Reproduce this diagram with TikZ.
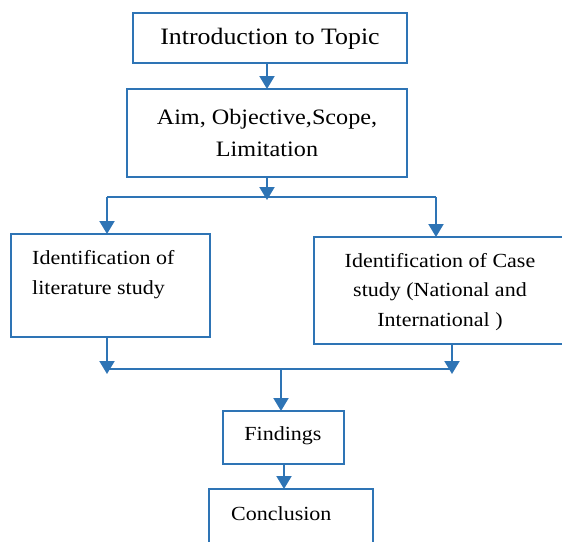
\documentclass[tikz,border=0pt]{standalone}
\usepackage{fontspec}
\setmainfont[FakeStretch=1.1]{Liberation Serif}
\usetikzlibrary{arrows.meta}
\definecolor{bl}{RGB}{46,116,181}
\begin{document}
\begin{tikzpicture}[x=1pt,y=-1pt,
  box/.style={draw=bl,line width=2.5pt,inner sep=0pt,outer sep=0pt,anchor=north west},
  txt/.style={inner sep=0pt,align=center,font=\fontsize{20}{30}\selectfont},
  arr/.style={draw=bl,line width=2pt,-{Triangle[width=15pt,length=13pt]}},
  ln/.style={draw=bl,line width=1.6pt}]
\useasboundingbox (0,0) rectangle (562,541);
\clip (0,0) rectangle (562,541);
% boxes
\node[box,minimum width=274pt,minimum height=50pt] (intro) at (133,13) {};
\node[box,minimum width=280pt,minimum height=88pt] (aim) at (127,89) {};
\node[box,minimum width=199pt,minimum height=103pt] (lit) at (11,234) {};
\node[box,minimum width=260pt,minimum height=107pt] (case) at (314,237) {};
\node[box,minimum width=121pt,minimum height=53pt] (find) at (223,411) {};
\node[box,minimum width=164pt,minimum height=80pt] (conc) at (209,489) {};
% texts
\node[txt,font=\fontsize{23.5}{30}\selectfont] (tintro) at (270,39) {Introduction to Topic};
\node[txt,font=\fontsize{22}{32}\selectfont] (taim) at (267,133) {Aim, Objective,Scope,\\Limitation};
\node[txt,align=left,anchor=west] (tlit) at (32,275) {Identification of\\literature study};
\node[txt,font=\fontsize{20}{29.5}\selectfont] (tcase) at (440,292) {Identification of Case\\study (National and\\International )};
\node[txt] (tfind) at (283,436) {Findings};
\node[txt,anchor=west] (tconc) at (231,514) {Conclusion};
% junction coordinates
\coordinate (j1) at (267,200);
\coordinate (b1l) at (107,197);
\coordinate (b1r) at (436,197);
\coordinate (j2l) at (107,374);
\coordinate (j2r) at (452,374);
\coordinate (h2l) at (107,369);
\coordinate (h2r) at (452,369);
\coordinate (j3) at (281,369);
% connectors
\draw[arr] (aim.north |- intro.south) -- (aim.north);
\draw[arr] (aim.south) -- (j1);
\draw[ln] (b1l) -- (b1r);
\draw[arr] (b1l) -- (b1l |- lit.north);
\draw[arr] (b1r) -- (b1r |- case.north);
\draw[arr] (j2l |- lit.south) -- (j2l);
\draw[arr] (j2r |- case.south) -- (j2r);
\draw[ln] (h2l) -- (h2r);
\draw[arr] (j3) -- (j3 |- find.north);
\draw[arr] (284,464) coordinate (f0) -- (f0 |- conc.north);
\end{tikzpicture}
\end{document}
